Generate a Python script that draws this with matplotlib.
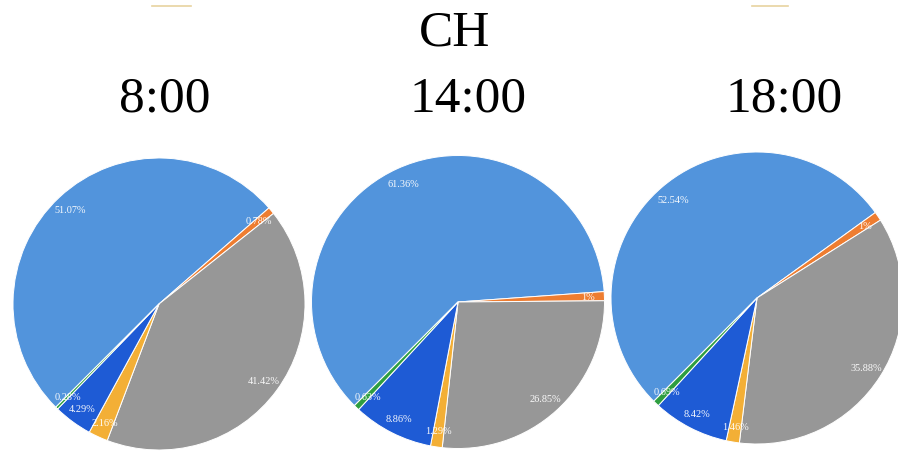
import numpy as np
import matplotlib
matplotlib.use("Agg")
import matplotlib.pyplot as plt
from matplotlib.lines import Line2D

# Share of each component at three times of day (percent)
components = ["A", "B", "C", "D", "E", "F"]
times = ["8:00", "14:00", "18:00"]
shares_0800 = [51.07, 0.78, 41.42, 2.16, 4.29, 0.28]
shares_1400 = [61.36, 1, 26.85, 1.29, 8.86, 0.63]
shares_1800 = [52.54, 1, 35.88, 1.46, 8.42, 0.69]
group_title = "CH"

colors = ["#5294DC", "#EE7D31", "#979797", "#F3AF36", "#1E5BD5", "#2E9E40"]

W, H = 898, 456
fig = plt.figure(figsize=(W / 100, H / 100), dpi=100)
fig.patch.set_facecolor("white")

serif = ["Liberation Serif", "DejaVu Serif"]

# pie centres and radii in pixels (x from left, y from top)
layout = [(159, 305, 146), (458, 303, 146.5), (757, 299, 146)]
title_x = [165, 468, 784]

for shares, label, (cx, cy, r), tx in zip(
        [shares_0800, shares_1400, shares_1800], times, layout, title_x):
    ax = fig.add_axes([(cx - r) / W, (H - cy - r) / H, 2 * r / W, 2 * r / H])
    wedges, _ = ax.pie(shares, colors=colors, startangle=225, counterclock=False,
                       radius=1, wedgeprops=dict(edgecolor="white", linewidth=0.7))
    for w, v in zip(wedges, shares):
        mid = np.deg2rad((w.theta1 + w.theta2) / 2)
        ax.text(0.89 * np.cos(mid), 0.89 * np.sin(mid), f"{v:g}%",
                ha="center", va="center", color="white", fontsize=7.4,
                family=serif, alpha=0.95)
    ax.set_xlim(-1, 1)
    ax.set_ylim(-1, 1)
    ax.set_aspect("auto")
    ax.axis("off")
    fig.text(tx / W, 1 - 111 / H, label, ha="center", va="baseline",
             fontsize=37, family=serif, color="black")

fig.text(454.5 / W, 1 - 46 / H, group_title, ha="center", va="baseline",
         fontsize=37, family=serif, color="black")

# thin decorative rules at the top edge
for x0, x1 in [(152, 191), (752, 788)]:
    fig.add_artist(Line2D([x0 / W, x1 / W], [1 - 7 / H, 1 - 7 / H],
                          transform=fig.transFigure, color="#E8D3A0", lw=1.2))

fig.savefig("out.png", dpi=100, facecolor="white")
